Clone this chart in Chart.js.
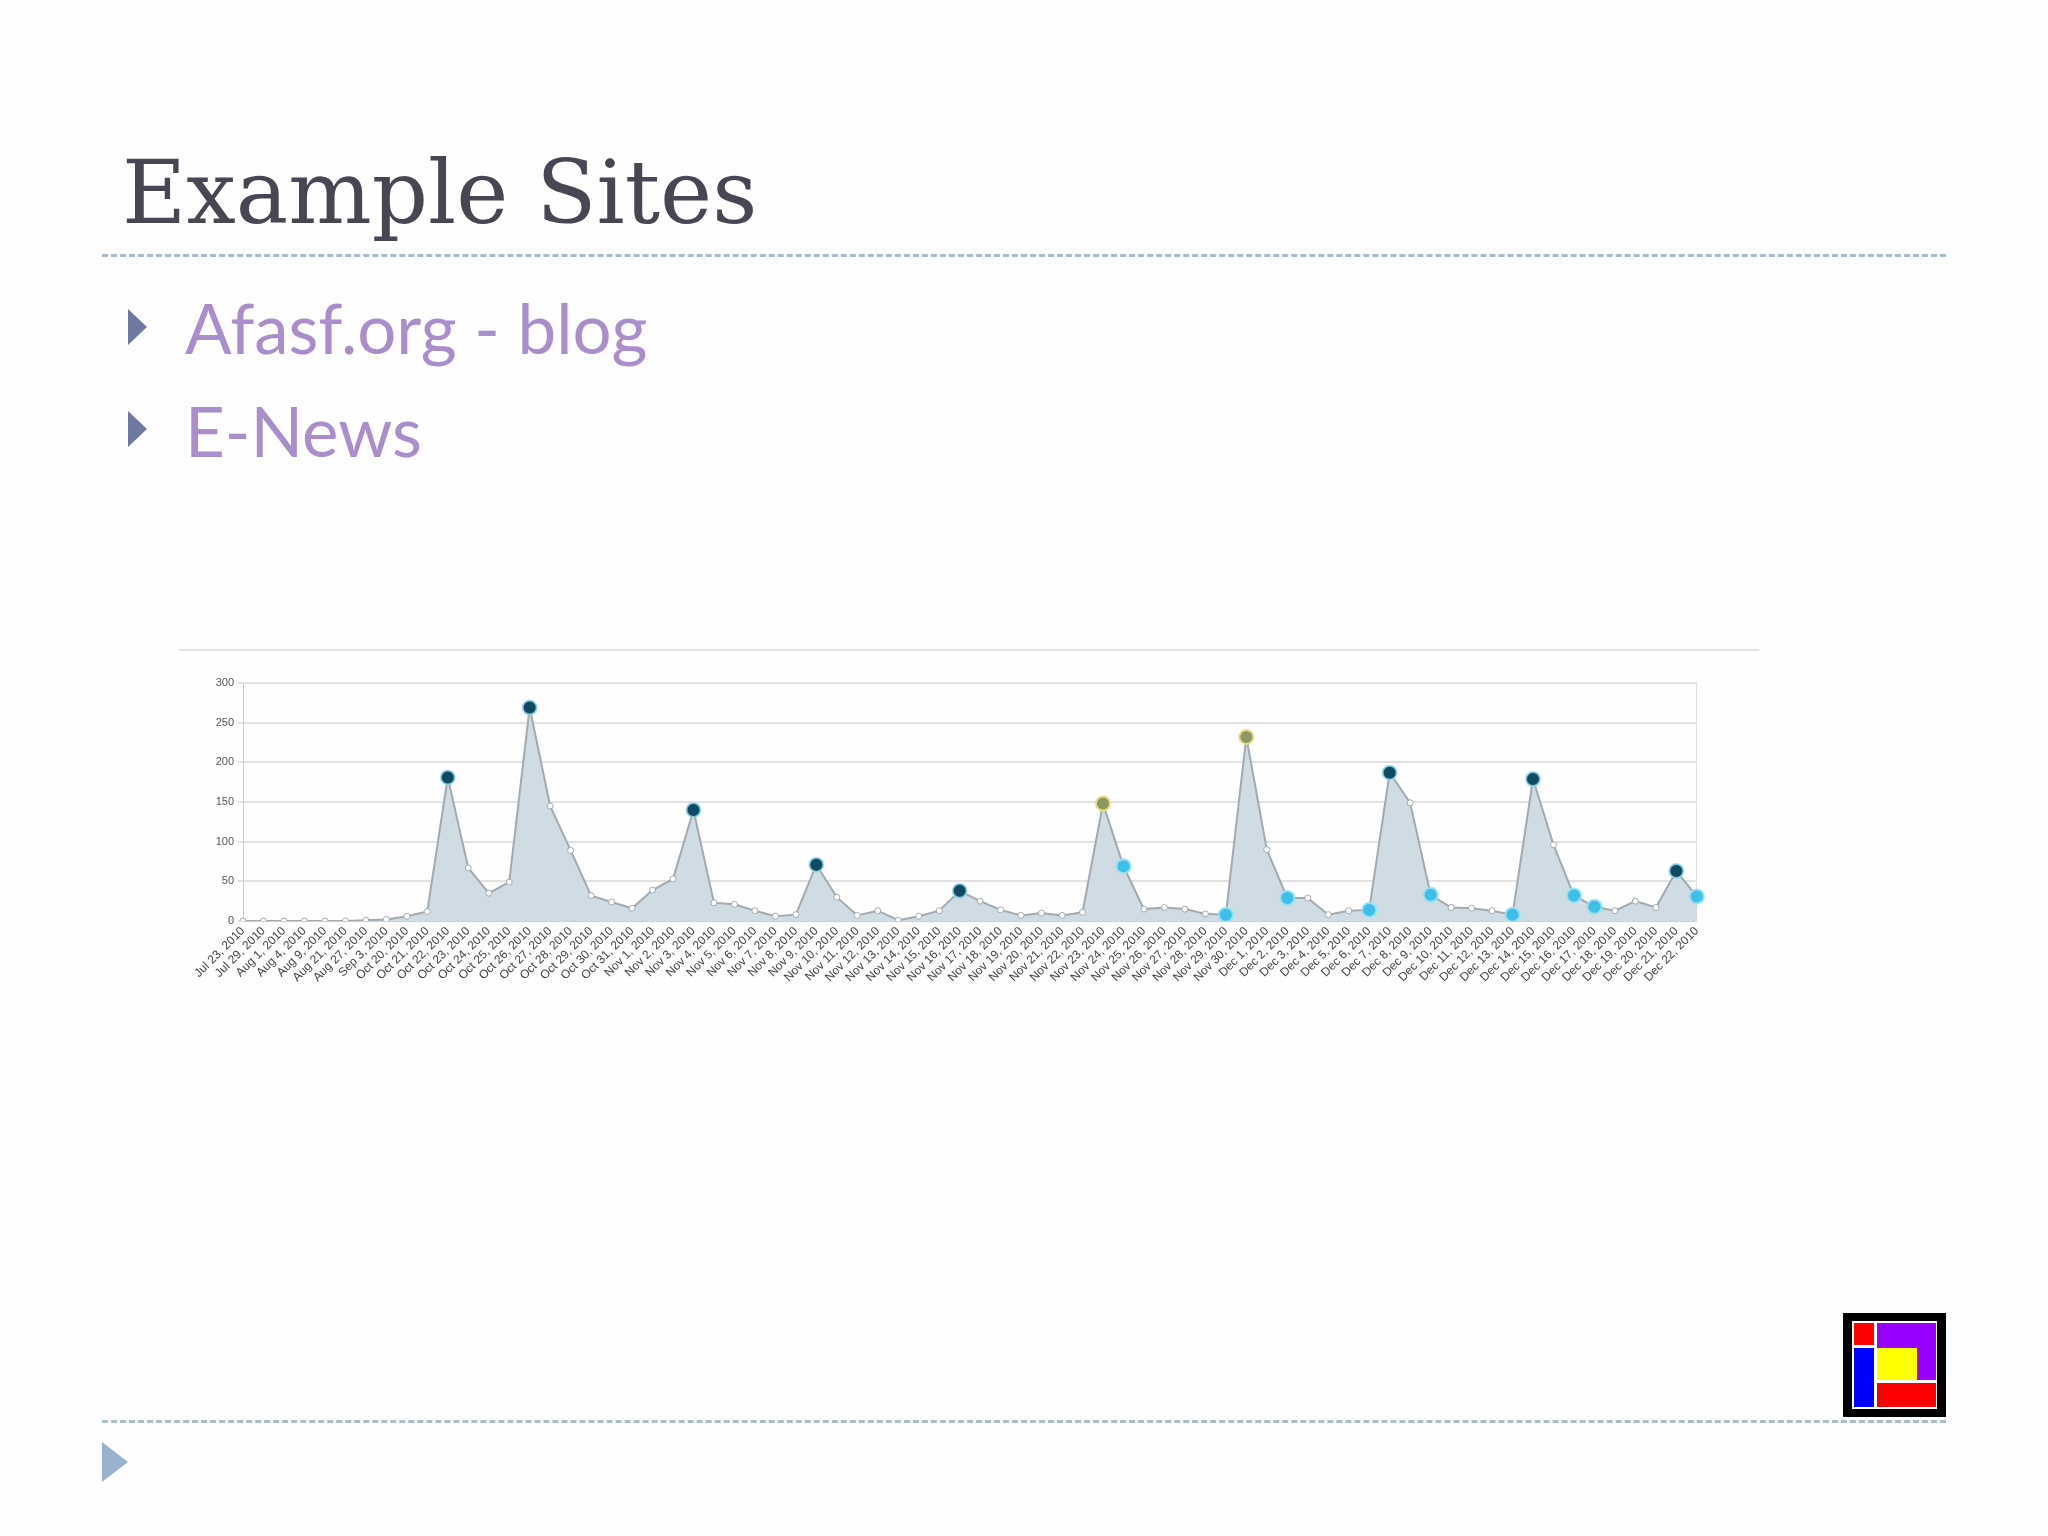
<!DOCTYPE html>
<html>
<head>
<meta charset="utf-8">
<title>Example Sites</title>
<script src="https://cdn.jsdelivr.net/npm/chart.js@4.4.1/dist/chart.umd.min.js"></script>
<style>
    html, body { margin: 0; padding: 0; background: #ffffff; }
    #slide { position: relative; width: 2048px; height: 1536px; overflow: hidden; background: #fefefe; }
    .title {
        position: absolute; left: 122px; top: 149px;
        font-family: "DejaVu Serif", serif; font-size: 88px; color: #474753;
        white-space: nowrap; line-height: 1;
    }
    .dash {
        position: absolute; left: 102px; width: 1844px; height: 0;
        border-top: 3px dashed #a9bccd;
    }
    .bullet {
        position: absolute; width: 0; height: 0;
        border-top: 18px solid transparent; border-bottom: 18px solid transparent;
        border-left: 19px solid #6e79a2;
    }
    .item {
        position: absolute; left: 185px;
        font-family: Lato, "Open Sans", sans-serif; font-size: 69px; color: #aa8ecb;
        white-space: nowrap; line-height: 1;
    }
    .chartTopLine { position: absolute; left: 179px; top: 649px; width: 1580px; height: 2px; background: #e2e2e2; }
    .chartBox { position: absolute; left: 180px; top: 668px; width: 1530px; height: 332px; }
    .foot { position: absolute; left: 102px; top: 1442px; width: 0; height: 0;
        border-top: 20px solid transparent; border-bottom: 20px solid transparent;
        border-left: 26px solid #9ab3cc; }
    .logo { position: absolute; left: 1843px; top: 1313px; width: 103px; height: 104px; background: #000; }
    .logo div { position: absolute; }
</style>
</head>
<body>
<div id="slide">
    <div class="title">Example Sites</div>
    <div class="dash" style="top: 254px;"></div>

    <div class="bullet" style="left: 128px; top: 309px;"></div>
    <div class="item" style="top: 293px;">Afasf.org - blog</div>
    <div class="bullet" style="left: 128px; top: 411px;"></div>
    <div class="item" style="top: 396px;">E-News</div>

    <div class="chartTopLine"></div>
    <div class="chartBox"><canvas id="visitsChart"></canvas></div>

    <div class="dash" style="top: 1420px;"></div>
    <div class="foot"></div>

    <!-- logo -->
    <div class="logo">
        <div style="left:9px; top:8px; width:85px; height:88px; background:#fff;"></div>
        <div style="left:11px; top:10px; width:20px; height:22px; background:#f00;"></div>
        <div style="left:34px; top:10px; width:59px; height:57px; background:#9900ff;"></div>
        <div style="left:11px; top:35px; width:20px; height:59px; background:#0000ff;"></div>
        <div style="left:34px; top:35px; width:40px; height:32px; background:#ffff00;"></div>
        <div style="left:34px; top:70px; width:59px; height:24px; background:#f00;"></div>
    </div>
</div>

<script>
// Datas (eixo X)
const labels = [
    'Jul 23, 2010', 'Jul 29, 2010', 'Aug 1, 2010', 'Aug 4, 2010', 'Aug 9, 2010', 'Aug 21, 2010',
    'Aug 27, 2010', 'Sep 3, 2010',
    'Oct 20, 2010', 'Oct 21, 2010', 'Oct 22, 2010', 'Oct 23, 2010', 'Oct 24, 2010', 'Oct 25, 2010',
    'Oct 26, 2010', 'Oct 27, 2010', 'Oct 28, 2010', 'Oct 29, 2010', 'Oct 30, 2010', 'Oct 31, 2010',
    'Nov 1, 2010', 'Nov 2, 2010', 'Nov 3, 2010', 'Nov 4, 2010', 'Nov 5, 2010', 'Nov 6, 2010',
    'Nov 7, 2010', 'Nov 8, 2010', 'Nov 9, 2010', 'Nov 10, 2010', 'Nov 11, 2010', 'Nov 12, 2010',
    'Nov 13, 2010', 'Nov 14, 2010', 'Nov 15, 2010', 'Nov 16, 2010', 'Nov 17, 2010', 'Nov 18, 2010',
    'Nov 19, 2010', 'Nov 20, 2010', 'Nov 21, 2010', 'Nov 22, 2010', 'Nov 23, 2010', 'Nov 24, 2010',
    'Nov 25, 2010', 'Nov 26, 2010', 'Nov 27, 2010', 'Nov 28, 2010', 'Nov 29, 2010', 'Nov 30, 2010',
    'Dec 1, 2010', 'Dec 2, 2010', 'Dec 3, 2010', 'Dec 4, 2010', 'Dec 5, 2010', 'Dec 6, 2010',
    'Dec 7, 2010', 'Dec 8, 2010', 'Dec 9, 2010', 'Dec 10, 2010', 'Dec 11, 2010', 'Dec 12, 2010',
    'Dec 13, 2010', 'Dec 14, 2010', 'Dec 15, 2010', 'Dec 16, 2010', 'Dec 17, 2010', 'Dec 18, 2010',
    'Dec 19, 2010', 'Dec 20, 2010', 'Dec 21, 2010', 'Dec 22, 2010'
];

// Visitas por dia
const visits = [
    0, 0, 0, 0, 0, 0, 1, 2,
    6, 12, 181, 67, 35, 49, 269, 145, 89, 32, 24, 16,
    39, 53, 140, 23, 21, 13, 6, 8, 71, 30, 7, 13, 1, 6, 13, 38, 25, 14, 7, 10,
    7, 11, 148, 69, 15, 17, 15, 9, 8, 232,
    90, 29, 29, 8, 13, 14, 187, 149, 33, 17, 16, 13, 8, 179, 96, 32, 18, 13, 25, 17, 63, 31
];

// Pontos destacados (indices)
const darkPoints = [10, 14, 22, 28, 35, 56, 63, 70];
const olivePoints = [42, 49];
const cyanPoints = [43, 48, 51, 55, 58, 62, 65, 66, 71];

// Eixo Y
const yTicks = [0, 50, 100, 150, 200, 250, 300];

function pointKind(i) {
    if (darkPoints.includes(i)) return 'dark';
    if (olivePoints.includes(i)) return 'olive';
    if (cyanPoints.includes(i)) return 'cyan';
    return 'plain';
}

const fills = { dark: '#0e4a62', olive: '#8b9a63', cyan: '#3dbfe8', plain: '#ffffff' };
const borders = { dark: 'rgba(150,215,235,0.8)', olive: '#eadb85', cyan: 'rgba(150,225,245,0.9)', plain: '#a3abb0' };

const ctx = document.getElementById('visitsChart').getContext('2d');
new Chart(ctx, {
    type: 'line',
    data: {
        labels: labels,
        datasets: [{
            data: visits,
            fill: 'origin',
            backgroundColor: '#cfdce3',
            borderColor: '#a2aaaf',
            borderWidth: 2,
            tension: 0,
            pointRadius: c => pointKind(c.dataIndex) === 'plain' ? 3 : 7,
            pointBorderWidth: c => pointKind(c.dataIndex) === 'plain' ? 1 : 2,
            pointBackgroundColor: c => fills[pointKind(c.dataIndex)],
            pointBorderColor: c => borders[pointKind(c.dataIndex)]
        }]
    },
    options: {
        responsive: true,
        maintainAspectRatio: false,
        animation: false,
        layout: { padding: { top: 15, right: 12, left: 0, bottom: 0 } },
        plugins: {
            legend: { display: false },
            tooltip: { enabled: false }
        },
        scales: {
            x: {
                offset: false,
                grid: {
                    drawTicks: false,
                    color: c => c.index === labels.length - 1 ? '#dcdcdc' : 'rgba(0,0,0,0)'
                },
                border: { display: true, color: '#cfcfcf' },
                ticks: {
                    autoSkip: false,
                    maxRotation: 45,
                    minRotation: 45,
                    padding: 3,
                    color: '#444',
                    font: { family: 'Liberation Sans', size: 12 }
                },
                afterFit: s => { s.height = 79; }
            },
            y: {
                min: 0,
                max: 300,
                afterBuildTicks: s => { s.ticks = yTicks.map(v => ({ value: v })); },
                grid: { color: '#e2e2e2', lineWidth: 2, tickLength: 5 },
                border: { display: true, color: '#c8c8c8' },
                ticks: {
                    padding: 4,
                    color: '#555',
                    font: { family: 'Liberation Sans', size: 11 }
                },
                afterFit: s => { s.width = 63; }
            }
        }
    }
});
</script>
</body>
</html>
